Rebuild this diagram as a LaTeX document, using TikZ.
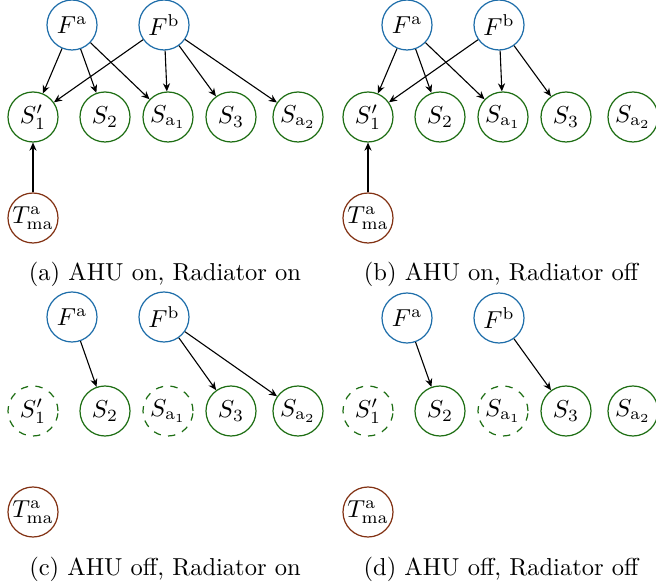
\documentclass[tikz,border=0pt]{standalone}
\usetikzlibrary{arrows.meta}
\definecolor{fblue}{RGB}{31,110,170}
\definecolor{sgreen}{RGB}{30,110,20}
\definecolor{tbrown}{RGB}{130,50,20}
\begin{document}
\begin{tikzpicture}[x=0.408pt,y=-0.408pt,
  base/.style={circle,draw,line width=0.5pt,minimum size=50*0.408pt,inner sep=0pt},
  fnode/.style={base,draw=fblue},
  snode/.style={base,draw=sgreen},
  soff/.style={base,draw=sgreen,dashed},
  tnode/.style={base,draw=tbrown},
  arr/.style={-{Stealth[length=3.3pt,width=2.9pt]},black,line width=0.45pt},
  capt/.style={inner sep=0pt}]
\useasboundingbox (0,0) rectangle (656,584);
% panel (a)
\node[fnode] (aFa) at (72,25) {$F^{\mathrm{a}}$};
\node[fnode] (aFb) at (164,25) {$F^{\mathrm{b}}$};
\node[snode] (aS1) at (33,117) {$S_1'$};
\node[snode] (aS2) at (105,117) {$S_2$};
\node[snode] (aSa1) at (168,117) {$S_{\mathrm{a}_1}$};
\node[snode] (aS3) at (231,117) {$S_3$};
\node[snode] (aSa2) at (298,117) {$S_{\mathrm{a}_2}$};
\node[tnode] (aT) at (33,218) {$T^{\mathrm{a}}_{\mathrm{ma}}$};
\node[capt] (acap) at (165,274) {(a) AHU on, Radiator on};
\draw[arr] (aFa) -- (aS1);
\draw[arr] (aFa) -- (aS2);
\draw[arr] (aFa) -- (aSa1);
\draw[arr] (aFb) -- (aS1);
\draw[arr] (aFb) -- (aSa1);
\draw[arr] (aFb) -- (aS3);
\draw[arr] (aFb) -- (aSa2);
\draw[arr] (aT) -- (aS1);
% panel (b)
\node[fnode] (bFa) at (407,25) {$F^{\mathrm{a}}$};
\node[fnode] (bFb) at (499,25) {$F^{\mathrm{b}}$};
\node[snode] (bS1) at (368,117) {$S_1'$};
\node[snode] (bS2) at (440,117) {$S_2$};
\node[snode] (bSa1) at (503,117) {$S_{\mathrm{a}_1}$};
\node[snode] (bS3) at (566,117) {$S_3$};
\node[snode] (bSa2) at (633,117) {$S_{\mathrm{a}_2}$};
\node[tnode] (bT) at (368,218) {$T^{\mathrm{a}}_{\mathrm{ma}}$};
\node[capt] (bcap) at (501,274) {(b) AHU on, Radiator off};
\draw[arr] (bFa) -- (bS1);
\draw[arr] (bFa) -- (bS2);
\draw[arr] (bFa) -- (bSa1);
\draw[arr] (bFb) -- (bS1);
\draw[arr] (bFb) -- (bSa1);
\draw[arr] (bFb) -- (bS3);
\draw[arr] (bT) -- (bS1);
% panel (c)
\node[fnode] (cFa) at (72,317) {$F^{\mathrm{a}}$};
\node[fnode] (cFb) at (164,317) {$F^{\mathrm{b}}$};
\node[soff] (cS1) at (33,411) {$S_1'$};
\node[snode] (cS2) at (105,411) {$S_2$};
\node[soff] (cSa1) at (168,411) {$S_{\mathrm{a}_1}$};
\node[snode] (cS3) at (231,411) {$S_3$};
\node[snode] (cSa2) at (298,411) {$S_{\mathrm{a}_2}$};
\node[tnode] (cT) at (33,512) {$T^{\mathrm{a}}_{\mathrm{ma}}$};
\node[capt] (ccap) at (165,569) {(c) AHU off, Radiator on};
\draw[arr] (cFa) -- (cS2);
\draw[arr] (cFb) -- (cS3);
\draw[arr] (cFb) -- (cSa2);
% panel (d)
\node[fnode] (dFa) at (407,318) {$F^{\mathrm{a}}$};
\node[fnode] (dFb) at (499,318) {$F^{\mathrm{b}}$};
\node[soff] (dS1) at (368,411) {$S_1'$};
\node[snode] (dS2) at (440,411) {$S_2$};
\node[soff] (dSa1) at (503,411) {$S_{\mathrm{a}_1}$};
\node[snode] (dS3) at (566,411) {$S_3$};
\node[snode] (dSa2) at (633,411) {$S_{\mathrm{a}_2}$};
\node[tnode] (dT) at (368,512) {$T^{\mathrm{a}}_{\mathrm{ma}}$};
\node[capt] (dcap) at (501,569) {(d) AHU off, Radiator off};
\draw[arr] (dFa) -- (dS2);
\draw[arr] (dFb) -- (dS3);
\end{tikzpicture}
\end{document}
